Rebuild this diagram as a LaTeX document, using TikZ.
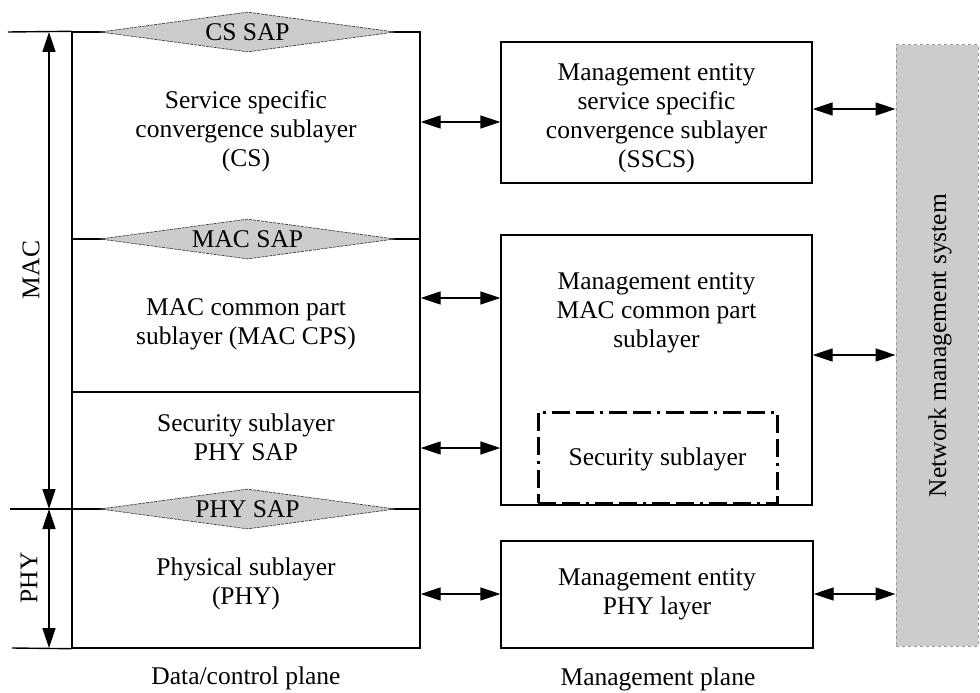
\documentclass[tikz,border=0pt]{standalone}
\usepackage{fontspec}
\setmainfont{Liberation Serif}
\usetikzlibrary{arrows.meta,shapes.geometric}
\definecolor{sapgray}{HTML}{CCCCCC}
\definecolor{bardash}{HTML}{9A9A9A}
\begin{document}
\begin{tikzpicture}[x=1pt,y=-1pt,
  every node/.style={font=\fontsize{25.5}{29}\selectfont, align=center, inner sep=0pt},
  box/.style={draw, line width=1.4pt, minimum width=#1},
  sap/.style={shape=diamond, draw=black!75, dash pattern=on 3pt off 1pt, line width=0.7pt,
              fill=sapgray, aspect=7, minimum width=295pt, minimum height=40pt},
  biarrow/.style={line width=1.4pt, {Triangle[length=20pt,width=13pt]}-{Triangle[length=20pt,width=13pt]}},
  secdash/.style={draw, line width=3pt, dash pattern=on 18pt off 6pt on 18pt off 6pt on 3pt off 6pt},
  nmsbar/.style={draw=bardash, dashed, line width=1pt, fill=sapgray}
]
\useasboundingbox (0,0) rectangle (980,693);

% ---------- left column (data/control plane) ----------
\node[box=348pt, minimum height=207pt] (csbox)  at (246,135.5) {};
\node[box=348pt, minimum height=153pt] (cpsbox) at (246,315.5) {};
\node[box=348pt, minimum height=117pt] (secl)   at (246,450.5) {};
\node[box=348pt, minimum height=139pt] (phybox) at (246,578.5) {};

\coordinate (ltop) at (8,32);
\coordinate (lphy) at (10,509);
\coordinate (rphy) at (421,509);
\coordinate (lbot) at (12,648);
\draw[line width=1.4pt] (ltop) -- (csbox.north west);
\draw[line width=1.4pt] (lphy) -- (rphy);
\draw[line width=1.4pt] (lbot) -- (phybox.south west);

\node[sap] (cssap)  at (247.5,32)  {CS SAP};
\node[sap] (macsap) at (247.5,239) {MAC SAP};
\node[sap] (physap) at (247.5,509) {PHY SAP};

\node (cstxt)  at (246,131)   {Service specific\\convergence sublayer\\(CS)};
\node (cpstxt) at (246,324.5) {MAC common part\\sublayer (MAC CPS)};
\node (sectxt) at (246,437.5) {Security sublayer\\PHY SAP};
\node (phytxt) at (246,584)   {Physical sublayer\\(PHY)};

% MAC / PHY extent arrows
\coordinate (macA) at (49,32);
\coordinate (macB) at (49,509);
\coordinate (phyA) at (49,509);
\coordinate (phyB) at (49,648);
\draw[biarrow] (macA) -- (macB);
\draw[biarrow] (phyA) -- (phyB);
\node[rotate=90] (maclbl) at (31,270) {MAC};
\node[rotate=90] (phylbl) at (29,578) {PHY};

\node (dcp) at (246,678) {Data/control plane};

% ---------- middle column (management plane) ----------
\node[box=311pt, minimum height=141pt] (sscs) at (656.5,112.5) {};
\node (sscstxt) at (656.5,118) {Management entity\\service specific\\convergence sublayer\\(SSCS)};
\node[box=311pt, minimum height=270pt] (mecps) at (656.5,370) {};
\node (mecpstxt) at (656.5,313) {Management entity\\MAC common part\\sublayer};
\node[secdash, minimum width=239pt, minimum height=91pt] (secbox) at (657.5,457.5) {};
\node (secboxtxt) at (657.5,459) {Security sublayer};
\node[box=312pt, minimum height=107pt] (mephy) at (657,594.5) {Management entity\\PHY layer};
\node (mp) at (658,679) {Management plane};

% ---------- network management system ----------
\node[nmsbar, minimum width=82pt, minimum height=601pt] (nms) at (937,345.5) {};
\node[rotate=90] (nmstxt) at (940,345.5) {Network management system};

% ---------- connectors ----------
\draw[biarrow] (csbox.east |- 0,122)  -- (sscs.west |- 0,122);
\draw[biarrow] (cpsbox.east |- 0,298) -- (mecps.west |- 0,298);
\draw[biarrow] (secl.east |- 0,448)   -- (mecps.west |- 0,448);
\draw[biarrow] (phybox.east |- 0,594) -- (mephy.west |- 0,594);

\draw[biarrow] (sscs.east |- 0,109)  -- (nms.west |- 0,109);
\draw[biarrow] (mecps.east |- 0,355) -- (nms.west |- 0,355);
\draw[biarrow] (mephy.east |- 0,594) -- (nms.west |- 0,594);
\end{tikzpicture}
\end{document}
